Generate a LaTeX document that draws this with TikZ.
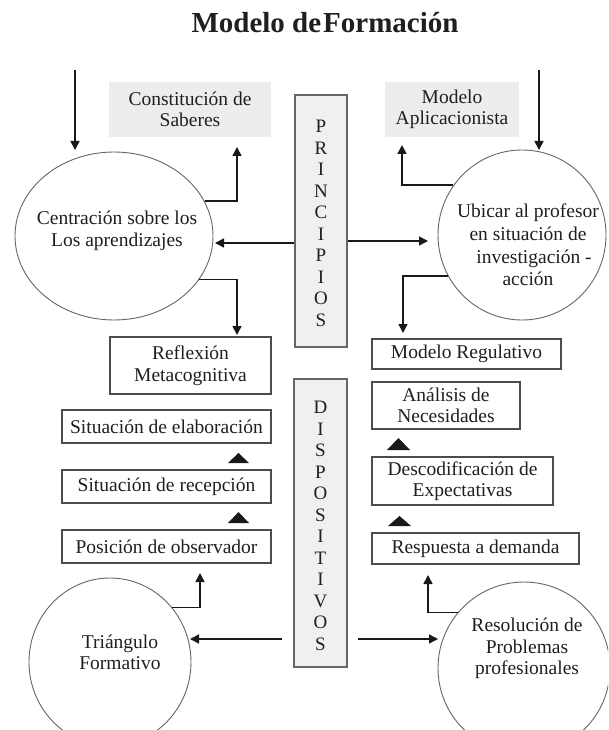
\documentclass[tikz,border=0pt]{standalone}
\usepackage{fontspec}
\setmainfont{Liberation Serif}
\usetikzlibrary{arrows.meta,shapes.geometric}
\begin{document}
\begin{tikzpicture}[x=1pt,y=-1pt,
  txt/.style={font=\fontsize{19.5}{21.5}\selectfont, text=black!88, align=center, inner sep=0pt},
  gbox/.style={txt, fill=black!7, draw=none},
  wbox/.style={txt, draw=black!70, line width=1.1pt, fill=white},
  colbox/.style={draw=black!60, line width=1.1pt, fill=black!6, inner sep=0pt},
  circ/.style={ellipse, draw=black!60, line width=0.9pt, inner sep=0pt},
  vtxt/.style={txt, font=\fontsize{19}{21.5}\selectfont},
  arr/.style={-{Triangle[length=9pt,width=9pt]}, line width=1.5pt, draw=black!90},
  tri/.style={fill=black!90}]
\path[use as bounding box, clip] (0,0) rectangle (608,730);
\fill[white] (0,0) rectangle (608,730);

% title
\node[font=\fontsize{29}{32}\selectfont\bfseries, text=black!88, anchor=base, inner sep=0pt] (title) at (325,33) {Modelo de\kern2pt Formación};

% gray boxes top
\node[gbox, minimum width=162pt, minimum height=55pt] (cs) at (190,109.5) {Constitución de\\Saberes};
\node[gbox, minimum width=134pt, minimum height=55pt] (ma) at (452,109.5) {Modelo\\Aplicacionista};

% central columns
\node[colbox, minimum width=52pt, minimum height=252pt] (pr) at (321,221) {};
\node[vtxt] (prt) at (321,223.5) {P\\R\\I\\N\\C\\I\\P\\I\\O\\S};
\node[colbox, minimum width=53pt, minimum height=288pt] (ds) at (320.5,523) {};
\node[vtxt] (dst) at (320.5,526) {D\\I\\S\\P\\O\\S\\I\\T\\I\\V\\O\\S};

% left boxes
\node[wbox, minimum width=161pt, minimum height=57pt] (rm) at (190.5,365.5) {Reflexión\\Metacognitiva};
\node[wbox, minimum width=209pt, minimum height=33pt] (se) at (166.5,426.5) {Situación de elaboración};
\node[wbox, minimum width=209pt, minimum height=33pt] (sr) at (166.5,486.5) {Situación de recepción};
\node[wbox, minimum width=209pt, minimum height=33pt] (po) at (166.5,546.5) {Posición de observador};

% right boxes
\node[wbox, minimum width=189pt, minimum height=30pt] (mr) at (466.5,354) {Modelo Regulativo};
\node[wbox, minimum width=148pt, minimum height=47pt] (an) at (446,405.5) {Análisis de\\Necesidades};
\node[wbox, minimum width=181pt, minimum height=48pt] (de) at (462.5,481) {Descodificación de\\Expectativas};
\node[wbox, minimum width=207pt, minimum height=31pt] (rd) at (475.5,548.5) {Respuesta a demanda};

% circles
\node[circ, minimum width=198pt, minimum height=168pt] (c1) at (114,236) {};
\node[txt] (t1) at (117,231) {Centración sobre los\\Los aprendizajes};
\node[circ, minimum width=168pt, minimum height=170pt] (c2) at (522,235) {};
\node[txt, font=\fontsize{19.5}{22.7}\selectfont] (t2) at (528,245) {Ubicar al profesor\\en situación de\hspace*{20pt}\\\hspace*{12pt}investigación -\\acción};
\node[circ, minimum width=162pt, minimum height=168pt] (c3) at (110,662) {};
\node[txt] (t3) at (120,652.5) {Triángulo\\Formativo};
\node[circ, minimum width=172pt, minimum height=172pt] (c4) at (524,668) {};
\node[txt] (t4) at (527,648.5) {Resolución de\\Problemas\\profesionales};

% small triangles
\fill[tri] (228,463) -- (249,463) -- (238.5,453) -- cycle;
\fill[tri] (228,523) -- (249,523) -- (238.5,512) -- cycle;
\fill[tri] (387,450) -- (410,450) -- (398.5,438) -- cycle;
\fill[tri] (388,526) -- (411,526) -- (399.5,516) -- cycle;

% connectors
\coordinate (s1) at (75,70);
\coordinate (e1) at (75,150);
\draw[arr] (s1) -- (e1);
\coordinate (s2) at (539,70);
\coordinate (e2) at (539,150);
\draw[arr] (s2) -- (e2);

\coordinate (k1) at (237,147);
\draw[arr] (c1.21.6) -| (k1);
\coordinate (k2) at (237,335);
\draw[arr] (c1.-27.6) -| (k2);
\coordinate (k3) at (215,243);
\draw[arr] (pr.west |- k3) -- (k3);
\coordinate (k4) at (428,241);
\draw[arr] (pr.east |- k4) -- (k4);
\coordinate (k5) at (402,145);
\draw[arr] (c2.144.6) -| (k5);
\coordinate (k6) at (403,333);
\draw[arr] (c2.209.6) -| (k6);

\coordinate (k9) at (200,573);
\draw[arr] (c3.41.5) -| (k9);
\coordinate (k10) at (428,575);
\draw[arr] (c4.140) -| (k10);
\coordinate (s3) at (282,639);
\coordinate (k11) at (190,639);
\draw[arr] (s3) -- (k11);
\coordinate (s4) at (358,639);
\coordinate (k12) at (438,639);
\draw[arr] (s4) -- (k12);
\end{tikzpicture}
\end{document}
